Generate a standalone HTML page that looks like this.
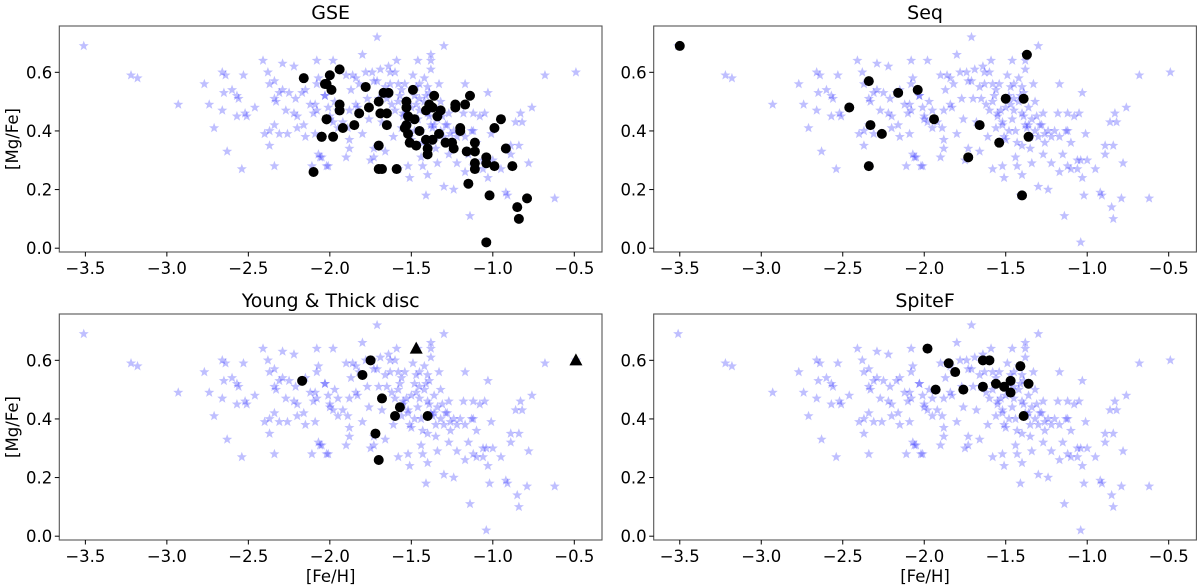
<!DOCTYPE html>
<html><head><meta charset="utf-8">
<style>
html,body{margin:0;padding:0;background:#fff;}
svg{display:block;font-family:"DejaVu Sans","Liberation Sans",sans-serif;}
</style></head>
<body>
<svg id="fig" width="1200" height="587" viewBox="0 0 1200 587"></svg>
<script>
// Background comparison sample (blue stars): [Fe/H] and [Mg/Fe]
const bgFe = [-3.51,-3.22,-3.18,-2.93,-2.77,-2.74,-2.71,-2.66,-2.64,-2.65,-2.66,-2.63,-2.60,-2.57,-2.56,-2.57,-2.54,-2.53,-2.52,-2.51,-2.46,-2.41,-2.38,-2.37,-2.34,-2.34,-2.33,-2.40,-2.37,-2.34,-2.37,-2.34,-2.29,-2.29,-2.31,-2.31,-2.26,-2.27,-2.25,-2.22,-2.21,-2.22,-2.20,-2.20,-2.16,-2.15,-2.17,-2.15,-2.11,-2.08,-2.12,-2.09,-2.10,-2.08,-2.07,-2.08,-2.09,-2.07,-2.05,-2.03,-2.02,
-1.71,-1.80,-1.30,-1.98,-1.59,-1.46,-1.38,-1.38,-1.38,-1.86,-1.78,-1.74,-1.69,-1.63,-1.60,-1.73,-1.71,-1.49,-1.42,-1.33,-1.87,-1.82,-1.63,-1.58,-1.54,-1.45,-1.40,-1.17,-1.03,-0.68,-0.49,-2.03,-1.84,-1.77,-1.57,-1.45,-1.41,-1.32,-2.01,-1.88,-1.76,-1.60,-1.45,-1.39,-1.27,-1.18,-1.12,-1.05,-0.83,-0.76,-1.98,-1.89,-1.80,-1.61,-1.56,-1.37,-1.29,-1.13,-1.08,-0.86,-0.82,-1.88,-1.88,-1.90,-2.01,-2.06,-1.73,-1.66,-1.73,-1.52,-1.43,-1.34,-1.44,-1.22,-1.17,-1.06,-1.00,-0.95,-0.89,-0.89,-0.78,-1.51,-1.40,-1.30,-1.24,-1.03,-0.92,-0.62,-1.41,-1.14,-1.26,-1.17,-1.01,
-1.55,-1.52,-1.48,-1.50,-1.53,-1.47,-1.35,-1.36,-1.40,-1.20,-1.10,-1.12,-1.04,-1.65,-1.68,-1.97,-1.95,-2.00,-1.92,
-1.58,-1.55,-1.52,-1.50,-1.48,-1.46,-1.44,-1.42,-1.40,-1.38,-1.36,-1.34,-1.32,-1.30,-1.28,-1.26,-1.24,-1.22,-1.56,-1.51,-1.47,-1.43,-1.39,-1.35,-1.31,-1.27,-1.62,-1.66,-1.70,-1.75,-1.83,-1.90,-1.95,-2.00,-1.12,-1.15,-1.10,-1.06,-0.84,-1.84,-1.64,-1.58,
-1.04,-0.84,-0.85,-0.79,-0.91,-1.02];
const bgMg = [0.69,0.59,0.58,0.49,0.56,0.49,0.41,0.60,0.59,0.53,0.47,0.33,0.54,0.52,0.51,0.45,0.27,0.59,0.46,0.45,0.48,0.64,0.60,0.56,0.57,0.51,0.50,0.39,0.40,0.42,0.35,0.28,0.63,0.54,0.53,0.39,0.39,0.47,0.53,0.62,0.51,0.46,0.45,0.41,0.42,0.38,0.53,0.54,0.28,0.64,0.49,0.49,0.46,0.47,0.58,0.56,0.39,0.32,0.31,0.52,0.28,
0.72,0.66,0.69,0.64,0.64,0.64,0.66,0.64,0.61,0.59,0.60,0.60,0.61,0.60,0.60,0.57,0.57,0.59,0.58,0.56,0.54,0.56,0.56,0.56,0.56,0.56,0.55,0.56,0.53,0.59,0.60,0.52,0.49,0.51,0.52,0.51,0.52,0.50,0.48,0.47,0.44,0.47,0.47,0.45,0.46,0.46,0.46,0.46,0.46,0.48,0.43,0.41,0.39,0.38,0.41,0.41,0.42,0.40,0.45,0.43,0.43,0.37,0.34,0.31,0.28,0.31,0.34,0.33,0.31,0.28,0.28,0.29,0.31,0.29,0.26,0.27,0.30,0.27,0.32,0.35,0.29,0.24,0.25,0.21,0.20,0.24,0.19,0.17,0.18,0.11,0.39,0.38,0.39,
0.45,0.43,0.40,0.37,0.47,0.49,0.38,0.42,0.35,0.40,0.36,0.28,0.30,0.51,0.43,0.50,0.47,0.45,0.43,
0.50,0.46,0.42,0.48,0.52,0.44,0.40,0.50,0.46,0.42,0.48,0.44,0.40,0.38,0.42,0.36,0.40,0.38,0.54,0.38,0.55,0.36,0.53,0.34,0.45,0.32,0.49,0.55,0.51,0.30,0.48,0.59,0.41,0.44,0.40,0.32,0.27,0.30,0.35,0.58,0.62,0.27,
0.02,0.10,0.14,0.17,0.18,0.18];

// GSE sample
const gseFe = [-2.16,-2.10,-2.05,-2.02,-2.02,-1.94,-2.00,-2.03,-1.99,-1.94,-1.94,-2.02,-2.05,-1.98,-1.92,-1.85,-1.82,-1.78,-1.76,-1.70,-1.70,-1.68,-1.59,-1.70,-1.67,-1.64,-1.69,-1.65,-1.65,-1.53,-1.53,-1.52,-1.54,-1.52,-1.53,-1.49,-1.48,-1.51,-1.47,-1.45,-1.41,-1.39,-1.36,-1.37,-1.34,-1.32,-1.41,-1.40,-1.40,-1.37,-1.33,-1.29,-1.25,-1.24,-1.23,-1.23,-1.20,-1.20,-1.17,-1.14,-1.16,-1.11,-1.11,-1.11,-1.11,-1.15,-1.04,-1.04,-0.99,-1.02,-1.04,-0.99,-0.95,-0.92,-0.88,-0.85,-0.84,-0.79];
const gseMg = [0.58,0.26,0.38,0.44,0.56,0.61,0.59,0.56,0.54,0.49,0.47,0.44,0.38,0.38,0.41,0.42,0.46,0.55,0.48,0.35,0.27,0.27,0.27,0.50,0.53,0.53,0.46,0.46,0.42,0.50,0.48,0.45,0.41,0.39,0.42,0.54,0.44,0.36,0.35,0.40,0.47,0.49,0.52,0.48,0.45,0.47,0.37,0.34,0.32,0.37,0.39,0.36,0.36,0.34,0.49,0.48,0.41,0.40,0.49,0.52,0.33,0.36,0.33,0.29,0.27,0.22,0.31,0.29,0.28,0.18,0.02,0.41,0.44,0.34,0.28,0.14,0.10,0.17];

// Seq sample
const seqFe = [-3.50,-2.46,-2.34,-2.33,-2.26,-2.34,-2.16,-2.04,-1.94,-1.73,-1.66,-1.50,-1.54,-1.39,-1.37,-1.36,-1.40];
const seqMg = [0.69,0.48,0.57,0.42,0.39,0.28,0.53,0.54,0.44,0.31,0.42,0.51,0.36,0.51,0.66,0.38,0.18];

// Young & Thick disc sample
const ytdFe = [-2.17,-1.80,-1.75,-1.68,-1.57,-1.60,-1.40,-1.72,-1.70];
const ytdMg = [0.53,0.55,0.60,0.47,0.44,0.41,0.41,0.35,0.26];
const ytdTriFe = [-1.47,-0.49];
const ytdTriMg = [0.64,0.60];

// SpiteF sample
const spiFe = [-1.98,-1.85,-1.81,-1.93,-1.76,-1.64,-1.60,-1.64,-1.56,-1.51,-1.47,-1.47,-1.41,-1.36,-1.39];
const spiMg = [0.64,0.59,0.56,0.50,0.50,0.60,0.60,0.51,0.52,0.51,0.53,0.49,0.58,0.52,0.41];

const xTicks = [-3.5,-3.0,-2.5,-2.0,-1.5,-1.0,-0.5];
const yTicks = [0.0,0.2,0.4,0.6];
const xLim = [-3.66,-0.33];
const yLim = [-0.013,0.758];

const NS = "http://www.w3.org/2000/svg";
const svg = document.getElementById('fig');
function mk(tag, attrs, parent){
  const e = document.createElementNS(NS, tag);
  for (const k in attrs) e.setAttribute(k, attrs[k]);
  (parent||svg).appendChild(e);
  return e;
}
function fmt(v){ return (v<0?'\u2212':'') + Math.abs(v).toFixed(1); }

const panels = [
  {title:'GSE', name:'gse', x0:59.3, y0:26, fe:gseFe, mg:gseMg, tri:null, ylab:true, xlab:false},
  {title:'Seq', name:'seq', x0:653.7, y0:26, fe:seqFe, mg:seqMg, tri:null, ylab:false, xlab:false},
  {title:'Young & Thick disc', name:'young-thick-disc', x0:59.3, y0:314, fe:ytdFe, mg:ytdMg, tri:[ytdTriFe,ytdTriMg], ylab:true, xlab:true},
  {title:'SpiteF', name:'spitef', x0:653.7, y0:314, fe:spiFe, mg:spiMg, tri:null, ylab:false, xlab:true}
];
const W = 542.7, H = 226;

function starPath(cx, cy, R){
  const r = R*0.42; let d = '';
  for (let i=0;i<10;i++){
    const a = -Math.PI/2 + i*Math.PI/5;
    const rr = i%2===0 ? R : r;
    d += (i===0?'M':'L') + (cx+rr*Math.cos(a)).toFixed(2) + ' ' + (cy+rr*Math.sin(a)).toFixed(2);
  }
  return d + 'Z';
}

panels.forEach(p => {
  const g = mk('g', {});
  
  
  const sx = v => p.x0 + (v - xLim[0]) / (xLim[1]-xLim[0]) * W;
  const sy = v => p.y0 + H - (v - yLim[0]) / (yLim[1]-yLim[0]) * H;

  const t = mk('text', {x:p.x0+W/2, y:p.y0-7, 'text-anchor':'middle', 'font-size':'19', fill:'#000'}, g);
  t.textContent = p.title;
  
  

  const sg = mk('g', {fill:'#0000ff', 'fill-opacity':'0.25'}, g);
  
  
  for (let i=0;i<bgFe.length;i++){
    const s = mk('path', {d: starPath(sx(bgFe[i]), sy(bgMg[i]), 5.3)}, sg);
    
    
  }
  const dg = mk('g', {fill:'#000'}, g);
  
  
  for (let i=0;i<p.fe.length;i++){
    const c = mk('circle', {cx:sx(p.fe[i]), cy:sy(p.mg[i]), r:5}, dg);
    
    
  }
  if (p.tri){
    for (let i=0;i<p.tri[0].length;i++){
      const cx = sx(p.tri[0][i]), cy = sy(p.tri[1][i]);
      const tr = mk('path', {d:`M${cx} ${cy-7}L${cx+6.5} ${cy+5}L${cx-6.5} ${cy+5}Z`, fill:'#000'}, g);
      
      
    }
  }
  const fr = mk('rect', {x:p.x0, y:p.y0, width:W, height:H, fill:'none', stroke:'#555', 'stroke-width':'1.1'}, g);
  
  
  xTicks.forEach(v => {
    const x = sx(v);
    mk('line', {x1:x, x2:x, y1:p.y0+H, y2:p.y0+H+4.5, stroke:'#000', 'stroke-width':'1'}, g);
    const tl = mk('text', {x:x, y:p.y0+H+22, 'text-anchor':'middle', 'font-size':'16.5', fill:'#000'}, g);
    tl.textContent = fmt(v);
    
    
  });
  yTicks.forEach(v => {
    const y = sy(v);
    mk('line', {x1:p.x0-4.5, x2:p.x0, y1:y, y2:y, stroke:'#000', 'stroke-width':'1'}, g);
    const tl = mk('text', {x:p.x0-7, y:y+6, 'text-anchor':'end', 'font-size':'16.5', fill:'#000'}, g);
    tl.textContent = v.toFixed(1);
    
    
  });
  if (p.ylab){
    const cy = p.y0 + H/2;
    const yl = mk('text', {x:0, y:0, transform:`translate(18 ${cy}) rotate(-90)`, 'text-anchor':'middle', 'font-size':'16.5', fill:'#000'}, g);
    yl.textContent = '[Mg/Fe]';
    
    
  }
  if (p.xlab){
    const xl = mk('text', {x:p.x0+W/2, y:p.y0+H+42, 'text-anchor':'middle', 'font-size':'16.5', fill:'#000'}, g);
    xl.textContent = '[Fe/H]';
    
    
  }
});
</script>
</body></html>
